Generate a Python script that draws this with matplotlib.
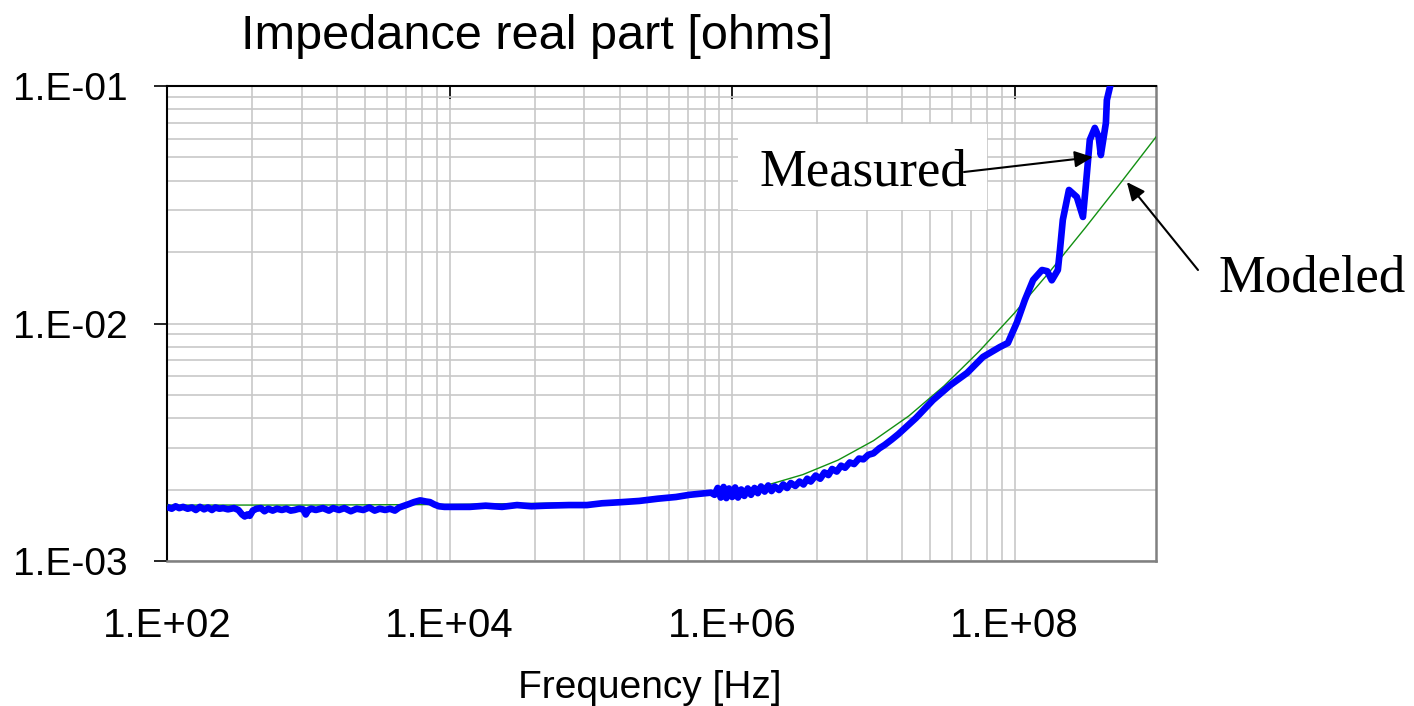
import matplotlib
matplotlib.use('Agg')
import matplotlib.pyplot as plt
from matplotlib.ticker import FixedLocator, FixedFormatter, NullFormatter
from matplotlib.patches import Rectangle

plt.rcParams['font.family'] = ['Liberation Sans', 'DejaVu Sans']

# ---------------- data ----------------
meas_f = [100, 108, 115, 122, 130, 140, 150, 160, 171, 183, 195, 208, 220, 235, 250,
          270, 298, 320, 340, 355, 370, 385, 405, 430, 462, 490, 520, 560, 600, 650,
          700, 750, 800, 860, 920, 960, 1000, 1050, 1130, 1271, 1400, 1500, 1650,
          1800, 2000, 2200, 2450, 2700, 2950, 3200, 3500, 3785, 4100, 4400, 4800,
          5200, 5600, 6200, 6800, 7260, 7800, 8410, 9200, 10000, 13930, 18000,
          23500, 30000, 38000, 48100, 70000, 93800, 120000, 166000, 220000, 299000,
          400000, 500000, 600000,
          7.08e5, 7.5e5, 7.9e5, 8.3e5, 8.7e5, 9.1e5, 9.5e5, 1.0e6, 1.05e6, 1.1e6,
          1.16e6, 1.22e6, 1.29e6, 1.36e6, 1.44e6, 1.52e6, 1.6e6, 1.7e6, 1.8e6, 1.9e6,
          2.0e6, 2.15e6, 2.3e6, 2.45e6, 2.6e6, 2.8e6, 3.0e6, 3.2e6, 3.4e6, 3.6e6,
          3.9e6, 4.2e6, 4.5e6, 4.8e6, 5.1e6, 5.5e6, 5.9e6, 6.3e6, 6.8e6, 7.3e6,
          7.9e6, 8.5e6, 9.2e6, 1.0e7, 1.1e7, 1.2e7, 1.35e7, 1.5e7,
          2.0e7, 2.64e7, 3.5e7, 4.6e7, 5.96e7, 7.85e7, 8.95e7, 1.04e8, 1.18e8,
          1.35e8, 1.56e8, 1.70e8, 1.83e8, 2.02e8, 2.09e8, 2.19e8, 2.42e8, 2.75e8,
          3.04e8, 3.19e8, 3.40e8, 3.69e8, 3.93e8, 4.07e8, 4.42e8, 4.49e8, 4.72e8,
          4.90e8]
meas_r = [1.69e-3, 1.66e-3, 1.70e-3, 1.67e-3, 1.69e-3, 1.66e-3, 1.68e-3, 1.64e-3,
          1.69e-3, 1.65e-3, 1.68e-3, 1.64e-3, 1.68e-3, 1.66e-3, 1.67e-3, 1.65e-3,
          1.67e-3, 1.64e-3, 1.57e-3, 1.54e-3, 1.57e-3, 1.55e-3, 1.63e-3, 1.66e-3,
          1.67e-3, 1.62e-3, 1.66e-3, 1.63e-3, 1.66e-3, 1.64e-3, 1.66e-3, 1.63e-3,
          1.64e-3, 1.66e-3, 1.65e-3, 1.57e-3, 1.64e-3, 1.66e-3, 1.64e-3, 1.67e-3,
          1.63e-3, 1.67e-3, 1.64e-3, 1.67e-3, 1.62e-3, 1.66e-3, 1.64e-3, 1.68e-3,
          1.63e-3, 1.66e-3, 1.64e-3, 1.66e-3, 1.63e-3, 1.68e-3, 1.71e-3, 1.74e-3,
          1.77e-3, 1.80e-3, 1.78e-3, 1.77e-3, 1.73e-3, 1.70e-3, 1.69e-3, 1.69e-3,
          1.69e-3, 1.71e-3, 1.69e-3, 1.72e-3, 1.70e-3, 1.71e-3, 1.72e-3, 1.72e-3,
          1.75e-3, 1.77e-3, 1.79e-3, 1.83e-3, 1.86e-3, 1.90e-3, 1.92e-3,
          1.94e-3, 1.90e-3, 2.03e-3, 1.85e-3, 2.05e-3, 1.84e-3, 2.02e-3, 1.86e-3,
          2.04e-3, 1.85e-3, 2.00e-3, 1.88e-3, 2.02e-3, 1.90e-3, 2.03e-3, 1.93e-3,
          2.06e-3, 1.96e-3, 2.08e-3, 1.97e-3,
          2.06e-3, 1.99e-3, 2.10e-3, 2.03e-3, 2.13e-3, 2.07e-3, 2.16e-3, 2.10e-3,
          2.22e-3, 2.16e-3, 2.29e-3, 2.22e-3, 2.36e-3, 2.30e-3, 2.44e-3, 2.38e-3,
          2.52e-3, 2.47e-3, 2.60e-3, 2.56e-3, 2.70e-3, 2.68e-3, 2.80e-3, 2.84e-3,
          2.98e-3, 3.08e-3, 3.25e-3, 3.42e-3,
          4.00e-3, 4.76e-3, 5.50e-3, 6.19e-3, 7.23e-3, 7.96e-3, 8.28e-3, 1.015e-2,
          1.256e-2, 1.525e-2, 1.68e-2, 1.66e-2, 1.52e-2, 1.68e-2, 2.04e-2, 2.73e-2,
          3.65e-2, 3.41e-2, 2.81e-2, 3.83e-2, 5.93e-2, 6.66e-2, 6.10e-2, 5.12e-2,
          6.99e-2, 8.73e-2, 9.90e-2, 1.08e-1]

model_f = [1e2, 1e3, 1e4, 1e5, 3.16e5, 1e6, 1.78e6, 3.16e6, 5.62e6, 1e7, 1.78e7,
           3.16e7, 5.62e7, 1e8, 1.78e8, 3.16e8, 5.62e8, 1e9]
model_r = [1.72e-3, 1.72e-3, 1.73e-3, 1.76e-3, 1.81e-3, 1.96e-3, 2.09e-3, 2.31e-3,
           2.66e-3, 3.21e-3, 4.08e-3, 5.46e-3, 7.65e-3, 1.11e-2, 1.66e-2, 2.53e-2,
           3.91e-2, 6.10e-2]

x_major = [1e2, 1e4, 1e6, 1e8]
x_labels = ['1.E+02', '1.E+04', '1.E+06', '1.E+08']
x_minor = [base * k * k for base in (1e2, 1e4, 1e6) for k in range(2, 10)]
y_major = [1e-3, 1e-2, 1e-1]
y_labels = ['1.E-03', '1.E-02', '1.E-01']
y_minor = [dec * k for dec in (1e-3, 1e-2) for k in range(2, 10)]

# ---------------- figure ----------------
W, H = 1414, 706
fig = plt.figure(figsize=(W / 100, H / 100), dpi=100)
ax = fig.add_axes([167 / W, 1 - 561 / H, (1156 - 167) / W, (561 - 86) / H])
ax.set_xscale('log')
ax.set_yscale('log')
ax.set_xlim(1e2, 1e9)
ax.set_ylim(1e-3, 1e-1)

ax.xaxis.set_major_locator(FixedLocator(x_major))
ax.xaxis.set_major_formatter(FixedFormatter(x_labels))
ax.xaxis.set_minor_locator(FixedLocator(x_minor))
ax.xaxis.set_minor_formatter(NullFormatter())
ax.yaxis.set_major_locator(FixedLocator(y_major))
ax.yaxis.set_major_formatter(FixedFormatter(y_labels))
ax.yaxis.set_minor_locator(FixedLocator(y_minor))
ax.yaxis.set_minor_formatter(NullFormatter())

ax.set_axisbelow(True)
ax.grid(True, which='both', color='#c8c8c8', linewidth=1.2)

ax.tick_params(axis='x', which='both', bottom=False, top=False, labelbottom=True)
ax.tick_params(axis='x', which='major', top=True, direction='in', length=9,
               width=1.2, color='black', pad=33, labelsize=29)
ax.tick_params(axis='y', which='minor', left=False, right=False)
ax.tick_params(axis='y', which='major', left=True, right=False, direction='out',
               length=9.5, width=1.2, pad=19, labelsize=28)

for side in ('left', 'top'):
    ax.spines[side].set_color('black')
    ax.spines[side].set_linewidth(1.5)
for side in ('right', 'bottom'):
    ax.spines[side].set_color('#808080')
    ax.spines[side].set_linewidth(1.8)

ax.plot(model_f, model_r, color='#129012', linewidth=1.0, zorder=3)
ax.plot(meas_f, meas_r, color='#0000ff', linewidth=4.8, zorder=4,
        solid_joinstyle='round', solid_capstyle='butt')

# white box behind "Measured"
ax.add_patch(Rectangle((738 / W, 1 - 210 / H), (987 - 738) / W, (210 - 124) / H,
                       transform=fig.transFigure, facecolor='white',
                       edgecolor='none', zorder=1))

fig.text(537 / W, 1 - 49 / H, 'Impedance real part [ohms]', ha='center',
         va='baseline', fontsize=35)
fig.text(650 / W, 1 - 698 / H, 'Frequency [Hz]', ha='center', va='baseline',
         fontsize=28)

fig.text(759 / W, 1 - 186 / H, 'Measured', ha='left', va='baseline',
         fontsize=38, family='Liberation Serif', zorder=5)
fig.text(1218 / W, 1 - 291 / H, 'Modeled', ha='left', va='baseline',
         fontsize=38, family='Liberation Serif')

arrow = dict(arrowstyle='-|>,head_length=0.55,head_width=0.25', color='black',
             lw=1.5, mutation_scale=20, shrinkA=0, shrinkB=0)
ax.annotate('', xy=(3.57e8, 0.0502), xycoords='data',
            xytext=(964, H - 172), textcoords='figure pixels',
            arrowprops=arrow, zorder=6)
ax.annotate('', xy=(6.22e8, 0.0394), xycoords='data',
            xytext=(1198, H - 270), textcoords='figure pixels',
            arrowprops=arrow, zorder=6, annotation_clip=False)

fig.savefig('out.png', dpi=100)
